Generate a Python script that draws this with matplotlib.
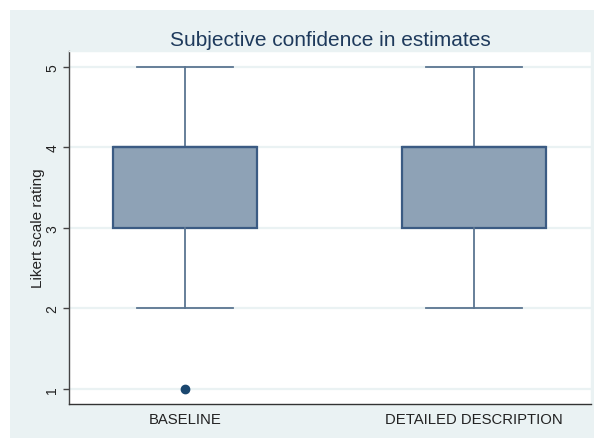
import matplotlib.pyplot as plt
from matplotlib.patches import Rectangle

plt.rcParams['font.family'] = ['Liberation Sans', 'DejaVu Sans']

# five-number summaries of the rating per group
groups = ['BASELINE', 'DETAILED DESCRIPTION']
q1 = [3, 3]
med = [4, 4]
q3 = [4, 4]
whislo = [2, 2]
whishi = [5, 5]
outliers = [[1], []]

stats = [dict(label=g, q1=a, med=m, q3=b, whislo=lo, whishi=hi, fliers=f)
         for g, a, m, b, lo, hi, f in zip(groups, q1, med, q3, whislo, whishi, outliers)]

panel = '#eaf2f3'
navy = '#1a476f'

fig = plt.figure(figsize=(5.94, 4.39), dpi=100)
fig.patch.set_facecolor('white')
fig.patches.append(Rectangle((10 / 594, -0.01), 1, 1.01 - 11 / 439, transform=fig.transFigure,
                             facecolor=panel, edgecolor='none', zorder=-10))

ax = fig.add_axes([69 / 594, 1 - 405 / 439, (591 - 69) / 594, (405 - 52) / 439])
ax.set_facecolor('white')

for y in range(1, 6):
    ax.axhline(y, color=panel, lw=1.6, zorder=0)

ax.bxp(stats, positions=[1, 2], widths=0.5, patch_artist=True,
       boxprops=dict(facecolor='#8ea2b6', edgecolor='#3b5b83', linewidth=1.6),
       whiskerprops=dict(color='#5b7591', linewidth=1.3),
       capprops=dict(color='#5b7591', linewidth=1.3),
       medianprops=dict(color='#3b5b83', linewidth=1.6),
       flierprops=dict(marker='o', markerfacecolor=navy, markeredgecolor=navy, markersize=6),
       capwidths=0.33, zorder=3)

ax.set_xlim(0.598, 2.405)
ax.set_ylim(0.81, 5.2)
ax.set_yticks(range(1, 6))
ax.set_yticklabels([str(v) for v in range(1, 6)], rotation=90, va='center', fontsize=10)
ax.set_xticks([1, 2])
ax.set_xticklabels(groups, fontsize=10.7)
ax.tick_params(axis='x', length=0, pad=6, colors='#222222')
ax.tick_params(axis='y', length=4, width=1, color='#444444', pad=3, labelcolor='#222222')
ax.set_ylabel('Likert scale rating', fontsize=11, color='#222222')
ax.yaxis.set_label_coords(-(69 - 45) / 522, 0.5)

for side in ['top', 'right']:
    ax.spines[side].set_color(panel)
    ax.spines[side].set_linewidth(1)
ax.spines['left'].set_color('#444444')
ax.spines['bottom'].set_color('#333333')
ax.spines['left'].set_linewidth(1)
ax.spines['bottom'].set_linewidth(1)

fig.text(330 / 594, 1 - 40 / 439, 'Subjective confidence in estimates',
         ha='center', va='center', fontsize=15, color='#1e3a5c')

fig.savefig('out.png', dpi=100, facecolor=fig.get_facecolor())
